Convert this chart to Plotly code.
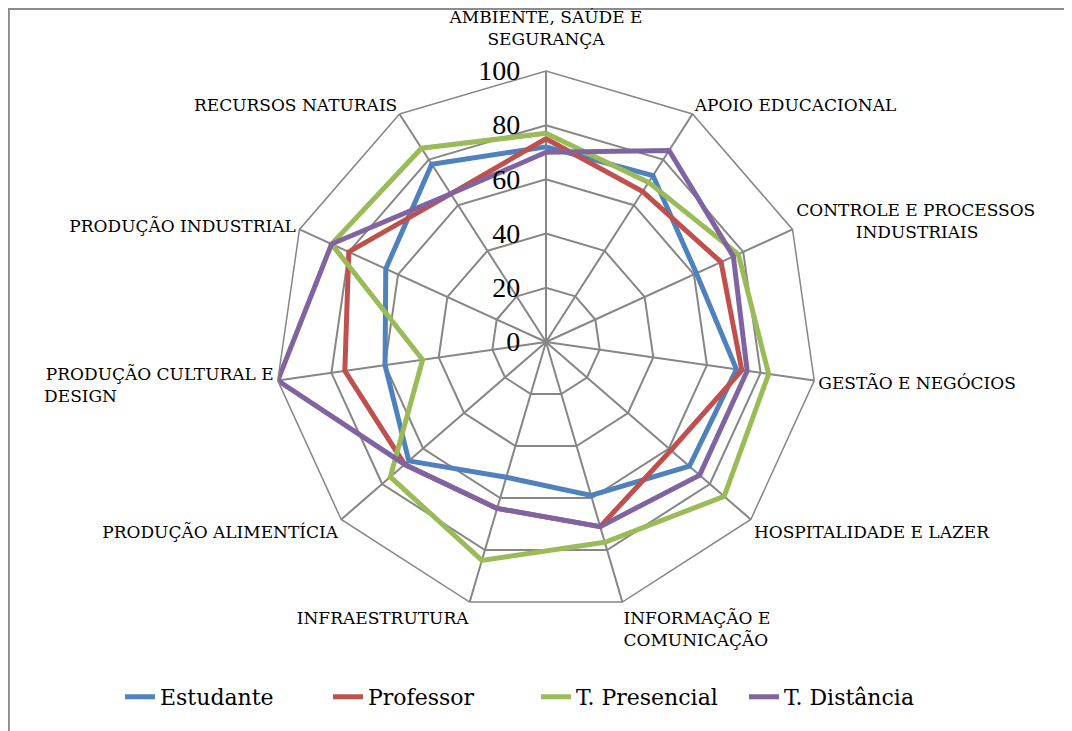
import plotly.graph_objects as go

NB = "\u00a0"

categories = [
    "AMBIENTE, SAÚDE E<br>SEGURANÇA",
    "APOIO EDUCACIONAL",
    "CONTROLE E PROCESSOS<br>INDUSTRIAIS",
    "GESTÃO E NEGÓCIOS",
    "HOSPITALIDADE E LAZER",
    "INFORMAÇÃO E<br>COMUNICAÇÃO",
    "INFRAESTRUTURA",
    "PRODUÇÃO ALIMENTÍCIA",
    "PRODUÇÃO CULTURAL E<br>DESIGN",
    "PRODUÇÃO INDUSTRIAL",
    "RECURSOS NATURAIS",
]

estudante = [72, 73, 61, 71, 70, 59, 52, 67, 60, 65, 78]
professor = [75, 66, 71, 73, 61, 71, 64, 69, 75, 80, 65]
presencial = [77, 70, 78, 83, 87, 77, 84, 76, 46, 87, 85]
distancia = [70, 84, 76, 75, 75, 71, 64, 69, 100, 87, 65]

series_names = ["Estudante", "Professor", "T. Presencial", "T. Distância"]
series_values = [estudante, professor, presencial, distancia]
series_colors = ["#4F81BD", "#C0504D", "#9BBB59", "#8064A2"]

tick_vals = [0, 20, 40, 60, 80, 100]

# angular tick label texts (alignment padding only; top label drawn as a text trace)
cat_ticktext = list(categories)
cat_ticktext[0] = ""
cat_ticktext[2] = "CONTROLE E PROCESSOS<br>" + NB * 11 + "INDUSTRIAIS"
cat_ticktext[8] = "PRODUÇÃO CULTURAL E<br>DESIGN" + NB * 29

fig = go.Figure()
for name, vals, col in zip(series_names, series_values, series_colors):
    fig.add_trace(go.Scatterpolar(
        r=vals + [vals[0]],
        theta=categories + [categories[0]],
        mode="lines",
        name=name,
        line=dict(color=col, width=5),
    ))

# top category label (placed at the outer ring, lifted by an empty line)
fig.add_trace(go.Scatterpolar(
    r=[100],
    theta=[categories[0]],
    mode="text",
    text=[categories[0] + "<br>" + NB],
    textposition="top center",
    textfont=dict(family="DejaVu Serif", size=17, color="black"),
    showlegend=False,
    hoverinfo="skip",
    cliponaxis=False,
))

W, H = 1072, 731
# figure coords (page adds an 8px body margin)
cx, cy, rad = 538, 334, 271
grid = "#868686"

fig.update_layout(
    width=W, height=H,
    margin=dict(l=0, r=0, t=0, b=0),
    paper_bgcolor="white",
    plot_bgcolor="white",
    font=dict(family="DejaVu Serif", color="black"),
    polar=dict(
        domain=dict(x=[(cx - rad) / W, (cx + rad) / W],
                    y=[(H - cy - rad) / H, (H - cy + rad) / H]),
        bgcolor="white",
        gridshape="linear",
        angularaxis=dict(
            direction="clockwise",
            rotation=90,
            tickmode="array",
            tickvals=categories,
            ticktext=cat_ticktext,
            showgrid=True,
            gridcolor=grid,
            gridwidth=1.5,
            showline=True,
            linecolor=grid,
            linewidth=1.5,
            ticks="",
            tickfont=dict(family="DejaVu Serif", size=17, color="black"),
        ),
        radialaxis=dict(
            range=[0, 100],
            tickvals=tick_vals,
            ticktext=[str(v) + NB * 3 for v in tick_vals],
            angle=90,
            tickangle=90,
            side="counterclockwise",
            showline=False,
            showgrid=True,
            gridcolor=grid,
            gridwidth=1.5,
            ticks="",
            tickfont=dict(family="Liberation Serif", size=28, color="black"),
        ),
    ),
    legend=dict(
        orientation="h",
        x=0.1045, xanchor="left",
        y=0.0575, yanchor="middle",
        font=dict(family="DejaVu Serif", size=22, color="black"),
        bgcolor="rgba(0,0,0,0)",
        entrywidth=163,
        entrywidthmode="pixels",
    ),
    showlegend=True,
    shapes=[dict(
        type="rect", xref="paper", yref="paper",
        x0=0.0008, x1=1.05, y0=-0.05, y1=0.9985,
        line=dict(color="#8c8c8c", width=2),
        fillcolor="rgba(0,0,0,0)",
        layer="below",
    )],
)

fig.write_html("out.html")
